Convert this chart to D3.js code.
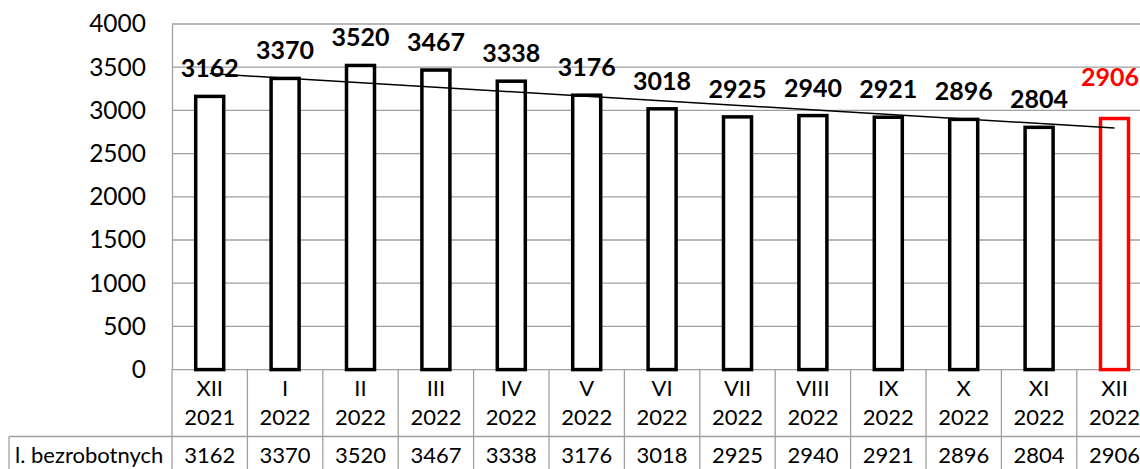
<!DOCTYPE html>
<html>
<head>
<meta charset="utf-8">
<script src="https://cdn.jsdelivr.net/npm/d3@7"></script>
<style>
  body{margin:0;background:#fff;overflow:hidden;}
  text{font-family:Lato,"Open Sans",sans-serif;}
</style>
</head>
<body>
<div id="wykres"></div>
<script>
// dane z wykresu
const miesiace=['XII','I','II','III','IV','V','VI','VII','VIII','IX','X','XI','XII'];
const lata=['2021','2022','2022','2022','2022','2022','2022','2022','2022','2022','2022','2022','2022'];
const bezrobotni=[3162,3370,3520,3467,3338,3176,3018,2925,2940,2921,2896,2804,2906];
const yTicks=[0,500,1000,1500,2000,2500,3000,3500,4000];
const nazwaWiersza='l. bezrobotnych';

const W=1140, H=469;
const lewo=172, gora=24, dol=369.6;
const szerKat=75.4;
const prawo=lewo+szerKat*miesiace.length; // wychodzi poza okno, jak w oryginale

const svg=d3.select('#wykres').append('svg')
  .attr('width',W).attr('height',H);

const x=d3.scaleBand().domain(d3.range(miesiace.length)).range([lewo,prawo]).padding(0);
const y=d3.scaleLinear().domain([0,4000]).range([dol,gora]);

const szary='#a0a0a0';

// siatka
svg.append('g').selectAll('line').data(yTicks).join('line')
  .attr('x1',lewo).attr('x2',prawo)
  .attr('y1',d=>y(d)).attr('y2',d=>y(d))
  .attr('stroke',szary).attr('stroke-width',1.3);

// os Y
const osY=svg.append('g').attr('transform',`translate(${lewo},0)`)
  .call(d3.axisLeft(y).tickValues(yTicks).tickFormat(d3.format('d')).tickSize(0).tickPadding(26));
osY.select('.domain').attr('stroke',szary).attr('stroke-width',1.3);
osY.selectAll('text').attr('font-size',24.5).attr('fill','#000')
  .attr('font-family','Lato,"Open Sans",sans-serif');

// tabela pod wykresem
const wierszKat=436.5;
const tab=svg.append('g');
// pionowe linie
tab.selectAll('line.pion').data(d3.range(miesiace.length+1)).join('line')
  .attr('class','pion')
  .attr('x1',d=>lewo+d*x.bandwidth()).attr('x2',d=>lewo+d*x.bandwidth())
  .attr('y1',dol).attr('y2',H+2)
  .attr('stroke',szary).attr('stroke-width',1.3);
tab.append('line').attr('x1',9).attr('x2',prawo).attr('y1',wierszKat).attr('y2',wierszKat)
  .attr('stroke',szary).attr('stroke-width',1.3);
tab.append('line').attr('x1',9).attr('x2',9).attr('y1',wierszKat).attr('y2',H+2)
  .attr('stroke',szary).attr('stroke-width',1.3);

const srodek=i=>x(i)+x.bandwidth()/2;

tab.selectAll('text.mies').data(miesiace).join('text')
  .attr('x',(d,i)=>srodek(i)).attr('y',396)
  .attr('text-anchor','middle').attr('font-size',22).text(d=>d);
tab.selectAll('text.rok').data(lata).join('text')
  .attr('x',(d,i)=>srodek(i)).attr('y',425)
  .attr('text-anchor','middle').attr('font-size',22).text(d=>d);
tab.selectAll('text.wart').data(bezrobotni).join('text')
  .attr('x',(d,i)=>srodek(i)).attr('y',463)
  .attr('text-anchor','middle').attr('font-size',22).text(d=>d);
tab.append('text').attr('x',15).attr('y',463).attr('font-size',22).text(nazwaWiersza);

// slupki
const szerSl=28;
svg.append('g').selectAll('rect').data(bezrobotni).join('rect')
  .attr('x',(d,i)=>srodek(i)-szerSl/2)
  .attr('y',d=>y(d))
  .attr('width',szerSl)
  .attr('height',d=>dol-y(d))
  .attr('fill','#fff')
  .attr('stroke',(d,i)=>i===bezrobotni.length-1?'#ff0000':'#000')
  .attr('stroke-width',3.5);

// linia trendu (regresja liniowa)
const n=bezrobotni.length;
const sx=d3.mean(d3.range(n)), sy=d3.mean(bezrobotni);
let licz=0, mian=0;
bezrobotni.forEach((v,i)=>{licz+=(i-sx)*(v-sy); mian+=(i-sx)**2;});
const a=licz/mian, b=sy-a*sx;
svg.append('line')
  .attr('x1',srodek(0)).attr('y1',y(b))
  .attr('x2',srodek(n-1)).attr('y2',y(a*(n-1)+b))
  .attr('stroke','#000').attr('stroke-width',1.5);

// etykiety wartosci
const etyk=svg.append('g').selectAll('text').data(bezrobotni).join('text')
  .attr('x',(d,i)=>srodek(i))
  .attr('y',(d,i)=>y(d)-(i===n-1?33:19))
  .attr('text-anchor','middle')
  .attr('font-size',25).attr('font-weight','bold')
  .attr('fill',(d,i)=>i===n-1?'#ff0000':'#000')
  .text(d=>d);
// ostatnia etykieta dosunieta do prawej krawedzi
etyk.filter((d,i)=>i===n-1).each(function(){
  const dl=this.getComputedTextLength();
  d3.select(this).attr('text-anchor','end').attr('x',W-1);
});
</script>
</body>
</html>
